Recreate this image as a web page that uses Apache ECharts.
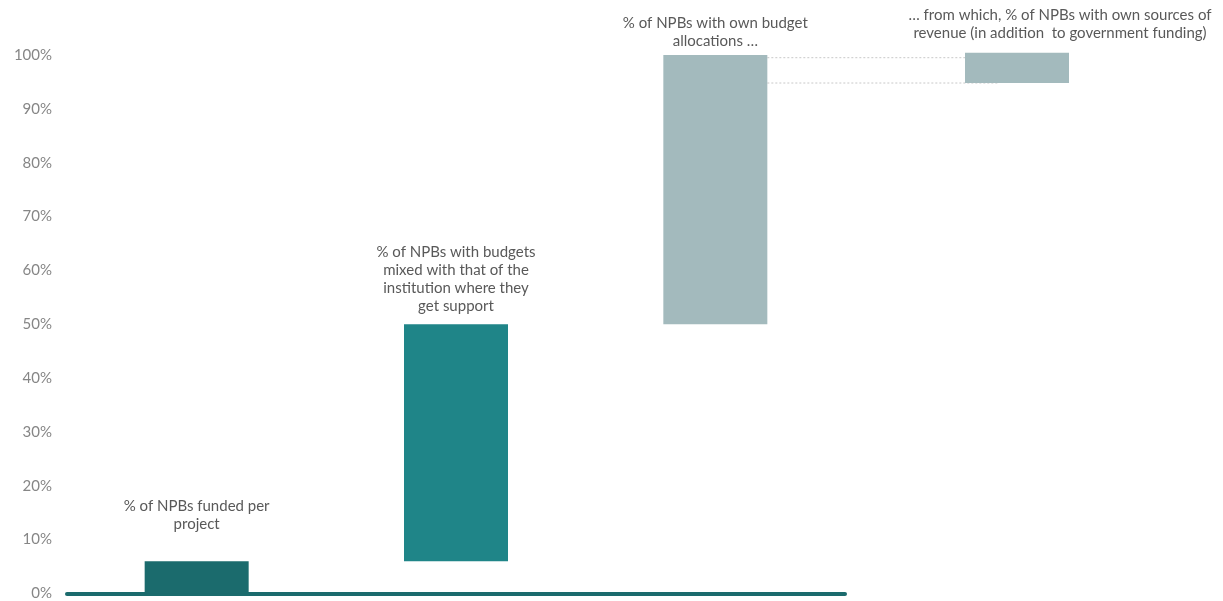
<!DOCTYPE html>
<html>
<head>
<meta charset="utf-8">
<script src="https://cdn.jsdelivr.net/npm/echarts@6/dist/echarts.min.js"></script>
<style>
  html, body { margin: 0; padding: 0; background: #fff; }
  #chart { width: 1223px; height: 601px; }
</style>
</head>
<body>
<div id="chart"></div>
<script>
// main waterfall steps
var categories = [
  "% of NPBs funded per\nproject",
  "% of NPBs with budgets\nmixed with that of the\ninstitution where they\nget support",
  "% of NPBs with own budget\nallocations \u2026"
];
var baseValues = [0, 6, 50];
var stepValues = [6, 44, 50];
var stepColors = ["#1b6b6d", "#1f8588", "#a3babd"];
var labelGaps = [28, 9, 5];

// the "from which" bar on the right
var subCategory = ["\u2026 from which, % of NPBs with own sources of\nrevenue (in addition  to government funding)"];
var subBase = [94.8];
var subValue = [5.6];

// dotted connectors between bar 3 and the sub bar
var connectorLevels = [99.5, 94.8];

var yTicks = [0, 10, 20, 30, 40, 50, 60, 70, 80, 90, 100];

var labelStyle = {
  show: true,
  position: "top",
  distance: 10,
  color: "#595959",
  fontSize: 15,
  lineHeight: 18,
  fontFamily: "Lato",
  formatter: function (p) { return p.name; }
};

var chart = echarts.init(document.getElementById("chart"));

var option = {
  animation: false,
  backgroundColor: "#fff",
  grid: [
    { left: 67, width: 778, top: 55, bottom: 6, containLabel: false },
    { left: 965, width: 104, top: 55, bottom: 6, containLabel: false }
  ],
  xAxis: [
    {
      gridIndex: 0,
      type: "category",
      data: categories,
      axisLine: { show: true, lineStyle: { color: "#1b6b6d", width: 4 } },
      axisTick: { show: false },
      axisLabel: { show: false }
    },
    {
      gridIndex: 1,
      type: "category",
      data: subCategory,
      axisLine: { show: false },
      axisTick: { show: false },
      axisLabel: { show: false }
    }
  ],
  yAxis: [
    {
      gridIndex: 0,
      type: "value",
      min: yTicks[0],
      max: yTicks[yTicks.length - 1],
      interval: 10,
      axisLine: { show: false },
      axisTick: { show: false },
      splitLine: { show: false },
      axisLabel: {
        margin: 15,
        color: "#868686",
        fontSize: 15,
        fontFamily: "Lato",
        formatter: "{value}%"
      }
    },
    {
      gridIndex: 1,
      type: "value",
      min: yTicks[0],
      max: yTicks[yTicks.length - 1],
      show: false
    }
  ],
  series: [
    {
      type: "bar",
      stack: "main",
      xAxisIndex: 0,
      yAxisIndex: 0,
      barWidth: 104,
      itemStyle: { color: "transparent" },
      silent: true,
      data: baseValues
    },
    {
      type: "bar",
      stack: "main",
      xAxisIndex: 0,
      yAxisIndex: 0,
      barWidth: 104,
      label: labelStyle,
      data: stepValues.map(function (v, i) {
        return {
          value: v,
          itemStyle: { color: stepColors[i] },
          label: { distance: labelGaps[i] }
        };
      })
    },
    {
      type: "bar",
      stack: "sub",
      xAxisIndex: 1,
      yAxisIndex: 1,
      barWidth: 104,
      itemStyle: { color: "transparent" },
      silent: true,
      data: subBase
    },
    {
      type: "bar",
      stack: "sub",
      xAxisIndex: 1,
      yAxisIndex: 1,
      barWidth: 104,
      clip: false,
      z: 3,
      itemStyle: { color: "#a3babd" },
      label: Object.assign({}, labelStyle, { distance: 11, offset: [43, 0] }),
      data: subValue
    }
  ]
};

chart.setOption(option);

// connectors: from right edge of bar 3 to the sub bar
var p3top = chart.convertToPixel({ gridIndex: 0 }, [2, connectorLevels[0]]);
var p3bot = chart.convertToPixel({ gridIndex: 0 }, [2, connectorLevels[1]]);
var p4 = chart.convertToPixel({ gridIndex: 1 }, [0, connectorLevels[0]]);
var x3 = p3top[0] + 52;
var x4 = p4[0] - 52;
var dotted = { stroke: "#c8c8c8", lineWidth: 1, lineDash: [2, 2] };
chart.setOption({
  graphic: [
    { type: "line", z: 1, shape: { x1: x3, y1: p3top[1], x2: x4, y2: p3top[1] }, style: dotted },
    { type: "line", z: 1, shape: { x1: x3, y1: p3bot[1], x2: x4 + 33, y2: p3bot[1] }, style: dotted }
  ]
});

window.onresize = function () {
  chart.resize();
};
</script>
</body>
</html>
